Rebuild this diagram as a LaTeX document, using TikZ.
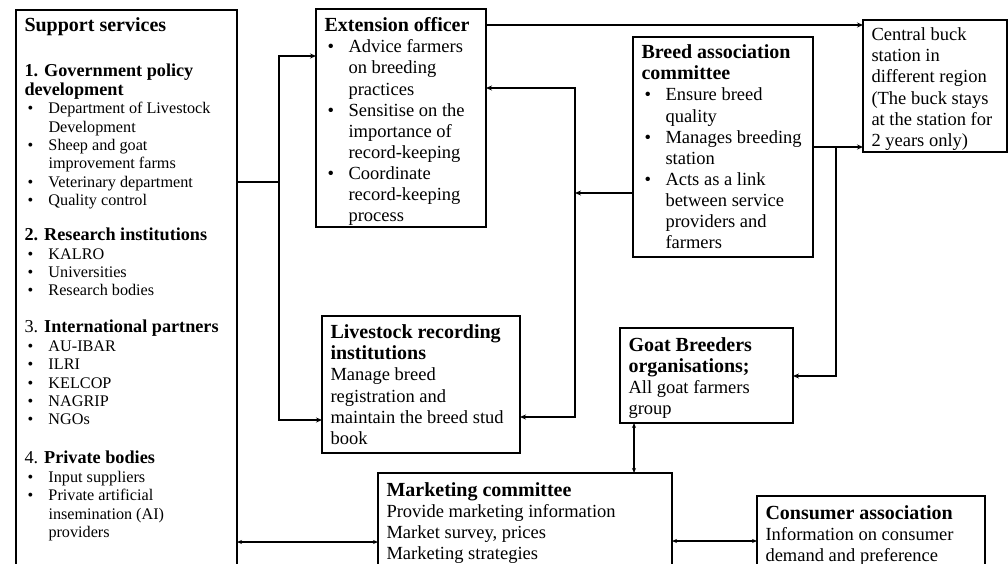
\documentclass[tikz,border=0pt]{standalone}
\usepackage{fontspec}
\setmainfont{Liberation Serif}
\usetikzlibrary{arrows.meta}

\newlength{\bulw}\setlength{\bulw}{24pt}
\newcommand{\bul}{\makebox[\bulw][l]{\hspace{3pt}\textbullet}}
\newcommand{\ind}{\hspace*{\bulw}}
\newcommand{\hd}[1]{{\fontsize{20}{21.1}\selectfont\bfseries #1}}
\newcommand{\shd}[1]{{\fontsize{18.2}{18.4}\selectfont #1}}
% box contents: [top pad]{width}{height}{text}
\newcommand{\boxtext}[4][6.5pt]{\parbox[t][#3][t]{#2}{\raggedright\leftskip=4.5pt\vspace*{#1}\strut#4}}

\tikzset{
  box/.style={draw, line width=1.6pt, anchor=north west, inner xsep=4pt, inner ysep=0pt,
    outer sep=0pt, font=\fontsize{18.5}{21.1}\selectfont},
  small/.style={font=\fontsize{16.2}{18.4}\selectfont},
  link/.style={line width=1.6pt, -{Stealth[length=6pt,width=5pt]}},
  plain/.style={line width=1.6pt},
  both/.style={line width=1.1pt, {Stealth[length=5pt,width=4pt]}-{Stealth[length=5pt,width=4pt]}},
}

\begin{document}
\begin{tikzpicture}[x=1pt, y=-1pt, line join=miter]
\useasboundingbox (0,0) rectangle (1008,564);
\clip (0,0) rectangle (1008,564);

% boxes
\node[box,small] (support) at (16,10) {\boxtext[8pt]{213pt}{600pt}{%
  {\fontsize{20}{18.4}\selectfont\bfseries Support services}\\[26.6pt]
  \shd{\bfseries 1. Government policy}\\
  \shd{\bfseries development}\\
  \bul Department of Livestock\\ \ind Development\\
  \bul Sheep and goat\\ \ind improvement farms\\
  \bul Veterinary department\\
  \bul Quality control\\[16.6pt]
  \shd{\bfseries 2. Research institutions}\\
  \bul KALRO\\
  \bul Universities\\
  \bul Research bodies\\[18.6pt]
  \shd{3. \bfseries International partners}\\
  \bul AU-IBAR\\
  \bul ILRI\\
  \bul KELCOP\\
  \bul NAGRIP\\
  \bul NGOs\\[20.6pt]
  \shd{4. \bfseries Private bodies}\\
  \bul Input suppliers\\
  \bul Private artificial\\ \ind insemination (AI)\\ \ind providers}};

\node[box] (ext) at (316,9) {\boxtext[8pt]{162pt}{218pt}{%
  \hd{Extension officer}\\
  \bul Advice farmers\\ \ind on breeding\\ \ind practices\\
  \bul Sensitise on the\\ \ind importance of\\ \ind record-keeping\\
  \bul Coordinate\\ \ind record-keeping\\ \ind process}};

\node[box] (breed) at (633,37) {\boxtext[7pt]{172pt}{220pt}{%
  \hd{Breed association}\\
  \hd{committee}\\
  \bul Ensure breed\\ \ind quality\\
  \bul Manages breeding\\ \ind station\\
  \bul Acts as a link\\ \ind between service\\ \ind providers and\\ \ind farmers}};

\node[box] (central) at (863,20) {\boxtext[6pt]{136pt}{132pt}{%
  Central buck\\ station in\\ different region\\ (The buck stays\\ at the station for\\ 2 years only)}};

\node[box] (ls) at (322,316) {\boxtext[8pt]{190pt}{137pt}{%
  \hd{Livestock recording}\\
  \hd{institutions}\\
  Manage breed\\ registration and\\ maintain the breed stud\\ book}};

\node[box] (goat) at (620,328) {\boxtext[8.5pt]{165pt}{95pt}{%
  \hd{Goat Breeders}\\
  \hd{organisations;}\\
  All goat farmers\\ group}};

\node[box] (mkt) at (378,473) {\boxtext[8.5pt]{286pt}{120pt}{%
  \hd{Marketing committee}\\
  Provide marketing information\\ Market survey, prices\\ Marketing strategies}};

\node[box] (cons) at (757,496) {\boxtext[8.5pt]{220pt}{100pt}{%
  \hd{Consumer association}\\
  Information on consumer\\ demand and preference}};

% junctions
\coordinate (jl) at (279,182);
\coordinate (jr) at (575,193);
\coordinate (jg) at (836,147);

% connectors
\draw[plain] (support.east |- jl) -- (jl);
\draw[link] (jl) |- (ext.west |- 0,56);
\draw[link] (jl) |- (ls.west |- 0,420);
\draw[link] (ext.east |- 0,25) -- (central.west |- 0,25);
\draw[link] (breed.west |- jr) -- (jr);
\draw[link] (jr) |- (ext.east |- 0,88);
\draw[link] (jr) |- (ls.east |- 0,417);
\draw[link] (breed.east |- jg) -- (central.west |- jg);
\draw[link] (jg) |- (goat.east |- 0,376);
\draw[both] (goat.south -| 634,0) -- (mkt.north -| 634,0);
\draw[both] (support.east |- 0,542) -- (mkt.west |- 0,542);
\draw[both,line width=1.4pt] (mkt.east |- 0,541) -- (cons.west |- 0,541);
\end{tikzpicture}
\end{document}
